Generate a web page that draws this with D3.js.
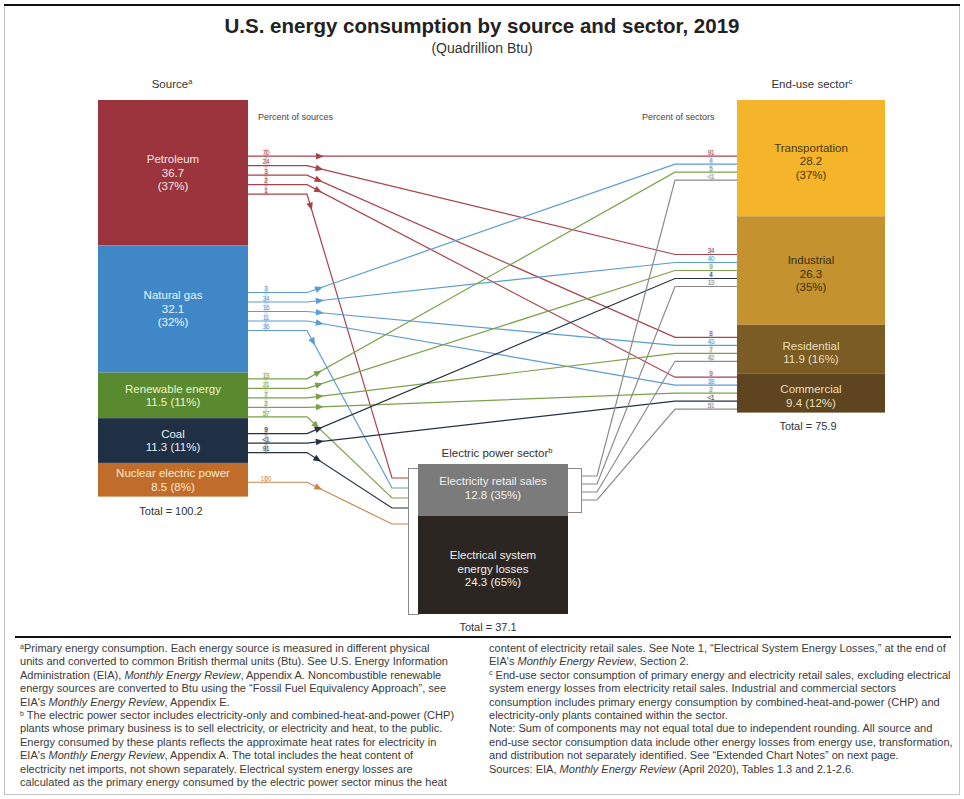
<!DOCTYPE html>
<html>
<head>
<meta charset="utf-8">
<script src="https://cdn.jsdelivr.net/npm/d3@7"></script>
<style>
  body { margin: 0; background: #fff; }
  svg { display: block; font-family: "Liberation Sans", Arial, Helvetica, sans-serif; }
</style>
</head>
<body>
<svg id="chart" width="964" height="799"></svg>
<script>
// ---- Data (quadrillion Btu, 2019) ----
const sources = ["Petroleum", "Natural gas", "Renewable energy", "Coal", "Nuclear electric power"];
const sourceValues = [36.7, 32.1, 11.5, 11.3, 8.5];
const sourceShares = [37, 32, 11, 11, 8];
const sourceTotal = 100.2;

const sectors = ["Transportation", "Industrial", "Residential", "Commercial"];
const sectorValues = [28.2, 26.3, 11.9, 9.4];
const sectorShares = [37, 35, 16, 12];
const sectorTotal = 75.9;

const powerParts = ["Electricity retail sales", "Electrical system energy losses"];
const powerLabelLines = [["Electricity retail sales"], ["Electrical system", "energy losses"]];
const powerValues = [12.8, 24.3];
const powerShares = [35, 65];
const powerTotal = 37.1;

// flow: [from, to, percent of source, percent of sector]
const flows = [
  ["Petroleum", "Transportation", "70", "91"],
  ["Petroleum", "Industrial", "24", "34"],
  ["Petroleum", "Residential", "3", "8"],
  ["Petroleum", "Commercial", "2", "9"],
  ["Petroleum", "Electric power", "1", null],
  ["Natural gas", "Transportation", "3", "4"],
  ["Natural gas", "Industrial", "34", "40"],
  ["Natural gas", "Residential", "16", "43"],
  ["Natural gas", "Commercial", "11", "38"],
  ["Natural gas", "Electric power", "36", null],
  ["Renewable energy", "Transportation", "13", "5"],
  ["Renewable energy", "Industrial", "21", "9"],
  ["Renewable energy", "Residential", "7", "7"],
  ["Renewable energy", "Commercial", "2", "2"],
  ["Renewable energy", "Electric power", "57", null],
  ["Coal", "Industrial", "9", "4"],
  ["Coal", "Commercial", "<1", "<1"],
  ["Coal", "Electric power", "91", null],
  ["Nuclear electric power", "Electric power", "100", null],
  ["Electricity retail sales", "Transportation", null, "<1"],
  ["Electricity retail sales", "Industrial", null, "13"],
  ["Electricity retail sales", "Residential", null, "42"],
  ["Electricity retail sales", "Commercial", null, "51"]
];

// ---- Styling ----
const sourceFill = ["#9b343c", "#3f87c6", "#5a8a30", "#1f3045", "#c06d2b"];
const sourceLine = ["#a8434b", "#5b9bd6", "#7ba24b", "#27313f", "#c9874c"];
const sourceText = ["#f6e4e4", "#eef4fb", "#eef3c8", "#e9edf2", "#fbe9d2"];
const sectorFill = ["#f4b52b", "#c4932f", "#7b5c24", "#5e4520"];
const sectorText = ["#4a3710", "#3c2c0c", "#ecdfbd", "#ecdfbd"];
const powerFill = ["#7b7b7b", "#2b2622"];
const retailLine = "#8a8a8a";

const svg = d3.select("#chart");

// frame
svg.append("rect").attr("x", 4.5).attr("y", 4.5).attr("width", 955).attr("height", 790)
  .attr("fill", "none").attr("stroke", "#c4c4c4");
svg.append("line").attr("x1", 4).attr("x2", 960).attr("y1", 5).attr("y2", 5)
  .attr("stroke", "#111").attr("stroke-width", 2);

// titles
svg.append("text").attr("x", 482).attr("y", 33).attr("text-anchor", "middle")
  .attr("font-size", 20.5).attr("font-weight", "bold").attr("fill", "#222")
  .text("U.S. energy consumption by source and sector, 2019");
svg.append("text").attr("x", 482).attr("y", 53).attr("text-anchor", "middle")
  .attr("font-size", 14).attr("fill", "#333").text("(Quadrillion Btu)");

function headed(x, y, label, sup) {
  const t = svg.append("text").attr("x", x).attr("y", y).attr("text-anchor", "middle")
    .attr("font-size", 11.5).attr("fill", "#333");
  t.append("tspan").text(label);
  t.append("tspan").attr("font-size", 7.5).attr("dy", -4).text(sup);
}
headed(172, 88, "Source", "a");
headed(812, 88, "End-use sector", "c");
headed(497, 457, "Electric power sector", "b");

svg.append("text").attr("x", 258).attr("y", 120).attr("font-size", 9).attr("fill", "#444").text("Percent of sources");
svg.append("text").attr("x", 642).attr("y", 120).attr("font-size", 9).attr("fill", "#444").text("Percent of sectors");

// ---- Scales and stacked boxes ----
const srcX = 98, srcW = 150, secX = 737, secW = 148, pwX = 418, pwW = 150;
const ySource = d3.scaleLinear().domain([0, sourceTotal]).range([100, 497]);
const ySector = d3.scaleLinear().domain([0, sectorTotal]).range([100, 413]);
const yPower = d3.scaleLinear().domain([0, powerTotal]).range([464, 614]);

function stack(values) {
  const ends = Array.from(d3.cumsum(values));
  return values.map((v, i) => [ends[i] - v, ends[i]]);
}
const srcStack = stack(sourceValues);
const secStack = stack(sectorValues);
const pwStack = stack(powerValues);

const node = {};
sources.forEach((s, i) => node[s] = { y0: ySource(srcStack[i][0]), y1: ySource(srcStack[i][1]), line: sourceLine[i] });
sectors.forEach((s, i) => node[s] = { y0: ySector(secStack[i][0]), y1: ySector(secStack[i][1]) });
powerParts.forEach((s, i) => node[s] = { y0: yPower(pwStack[i][0]), y1: yPower(pwStack[i][1]), line: retailLine });

function labelBlock(g, lines, cx, cy, fill) {
  const lh = 13.5;
  lines.forEach((ln, k) => {
    g.append("text").attr("x", cx).attr("y", cy + (k - (lines.length - 1) / 2) * lh + 4)
      .attr("text-anchor", "middle").attr("font-size", 11.5).attr("fill", fill).text(ln);
  });
}

// ---- Flow geometry ----
const bendL = 307, bendR = 675, srcSpacing = 9.5, secSpacing = 8;
const outBy = d3.group(flows, f => f[0]);
const inBy = d3.group(flows, f => f[1]);

const srcSlot = new Map();
sources.forEach(s => {
  const list = outBy.get(s) || [];
  const c = (node[s].y0 + node[s].y1) / 2 + 2.5;
  list.forEach((f, i) => srcSlot.set(f, c + (i - (list.length - 1) / 2) * srcSpacing));
});
const petroTop = srcSlot.get(outBy.get("Petroleum")[0]);

const secSlot = new Map();
sectors.forEach(s => {
  const list = inBy.get(s) || [];
  let c = (node[s].y0 + node[s].y1) / 2;
  if (s === "Transportation") c = petroTop + (list.length - 1) / 2 * secSpacing;
  list.forEach((f, i) => secSlot.set(f, c + (i - (list.length - 1) / 2) * secSpacing));
});

const epIn = inBy.get("Electric power");
const epSlot = new Map();
epIn.forEach((f, i) => epSlot.set(f, 478 + i * 10 + (i === epIn.length - 1 ? 6 : 0)));
const retailOut = outBy.get("Electricity retail sales");
const retailSlot = new Map();
retailOut.forEach((f, i) => retailSlot.set(f, 476 + i * 8));

const lineG = svg.append("g").attr("fill", "none").attr("stroke-width", 1.2);
const arrowG = svg.append("g");
const line = d3.line();

flows.forEach(f => {
  const [from, to] = f;
  let pts;
  const color = node[from].line;
  if (from === "Electricity retail sales") {
    const y0 = retailSlot.get(f), y1 = secSlot.get(f);
    pts = [[582, y0], [597, y0], [bendR, y1], [secX, y1]];
  } else if (to === "Electric power") {
    const y0 = srcSlot.get(f), y1 = epSlot.get(f);
    pts = [[srcX + srcW, y0], [bendL, y0], [392, y1], [408, y1]];
  } else {
    const y0 = srcSlot.get(f), y1 = secSlot.get(f);
    pts = [[srcX + srcW, y0], [bendL, y0], [bendR, y1], [secX, y1]];
  }
  lineG.append("path").attr("d", line(pts)).attr("stroke", color);

  if (from !== "Electricity retail sales") {
    const [bx, by] = pts[1], [nx, ny] = pts[2];
    const len = Math.hypot(nx - bx, ny - by);
    const ux = (nx - bx) / len, uy = (ny - by) / len;
    const tx = bx + ux * 17, ty = by + uy * 17;
    const ang = Math.atan2(uy, ux) * 180 / Math.PI;
    arrowG.append("path").attr("d", "M0,0L-8,-3.3L-8,3.3Z").attr("fill", color)
      .attr("transform", `translate(${tx},${ty}) rotate(${ang})`);
  }
});

// percent labels with light guide bars
const labG = svg.append("g").attr("font-size", 6.5).attr("text-anchor", "middle");
sources.forEach((s, i) => {
  const list = outBy.get(s);
  const ys = list.map(f => srcSlot.get(f));
  labG.append("rect").attr("x", 264.5).attr("y", d3.min(ys) - 7).attr("width", 3)
    .attr("height", d3.max(ys) - d3.min(ys) + 8).attr("fill", sourceLine[i]).attr("opacity", 0.25);
  list.forEach(f => labG.append("text").attr("x", 266).attr("y", srcSlot.get(f) - 1.3)
    .attr("fill", sourceLine[i]).text(f[2]));
});
sectors.forEach(s => {
  const list = inBy.get(s);
  const ys = list.map(f => secSlot.get(f));
  labG.append("rect").attr("x", 709.5).attr("y", d3.min(ys) - 7).attr("width", 3)
    .attr("height", d3.max(ys) - d3.min(ys) + 8).attr("fill", "#999").attr("opacity", 0.25);
  list.forEach(f => labG.append("text").attr("x", 711).attr("y", secSlot.get(f) - 1.3)
    .attr("fill", node[f[0]].line).text(f[3]));
});

// ---- Boxes ----
const boxG = svg.append("g");
sources.forEach((s, i) => {
  const n = node[s];
  boxG.append("rect").attr("x", srcX).attr("y", n.y0).attr("width", srcW).attr("height", n.y1 - n.y0).attr("fill", sourceFill[i]);
  const v = sourceValues[i].toFixed(1), p = `(${sourceShares[i]}%)`;
  const lines = (n.y1 - n.y0) > 80 ? [s, v, p] : [s, `${v} ${p}`];
  labelBlock(boxG, lines, srcX + srcW / 2, (n.y0 + n.y1) / 2, sourceText[i]);
});
boxG.append("text").attr("x", srcX + srcW / 2 - 2).attr("y", 515).attr("text-anchor", "middle")
  .attr("font-size", 11).attr("fill", "#333").text(`Total = ${sourceTotal.toFixed(1)}`);

sectors.forEach((s, i) => {
  const n = node[s];
  boxG.append("rect").attr("x", secX).attr("y", n.y0).attr("width", secW).attr("height", n.y1 - n.y0).attr("fill", sectorFill[i]);
  const v = sectorValues[i].toFixed(1), p = `(${sectorShares[i]}%)`;
  const lines = (n.y1 - n.y0) > 80 ? [s, v, p] : [s, `${v} ${p}`];
  labelBlock(boxG, lines, secX + secW / 2, (n.y0 + n.y1) / 2 + 3, sectorText[i]);
});
boxG.append("text").attr("x", secX + secW / 2 - 3).attr("y", 430).attr("text-anchor", "middle")
  .attr("font-size", 11).attr("fill", "#333").text(`Total = ${sectorTotal.toFixed(1)}`);

// electric power sector: input/output strips and stacked parts
boxG.append("rect").attr("x", 408.5).attr("y", 468.5).attr("width", 10).attr("height", 146)
  .attr("fill", "#fff").attr("stroke", "#8a8a8a");
boxG.append("rect").attr("x", 567.5).attr("y", 468.5).attr("width", 14).attr("height", 44)
  .attr("fill", "#fff").attr("stroke", "#8a8a8a");
powerParts.forEach((s, i) => {
  const n = node[s];
  boxG.append("rect").attr("x", pwX).attr("y", n.y0).attr("width", pwW).attr("height", n.y1 - n.y0).attr("fill", powerFill[i]);
  const lines = powerLabelLines[i].concat([`${powerValues[i].toFixed(1)} (${powerShares[i]}%)`]);
  labelBlock(boxG, lines, pwX + pwW / 2, (n.y0 + n.y1) / 2 + (i ? 4 : -2), "#efefef");
});
boxG.append("text").attr("x", 488).attr("y", 631).attr("text-anchor", "middle")
  .attr("font-size", 11).attr("fill", "#333").text(`Total = ${powerTotal.toFixed(1)}`);

// ---- Notes ----
svg.append("line").attr("x1", 15).attr("x2", 951).attr("y1", 637).attr("y2", 637)
  .attr("stroke", "#111").attr("stroke-width", 2);

const notesLeft = [
  "{a}Primary energy consumption. Each energy source is measured in different physical",
  "units and converted to common British thermal units (Btu). See U.S. Energy Information",
  "Administration (EIA), *Monthly Energy Review*, Appendix A. Noncombustible renewable",
  "energy sources are converted to Btu using the “Fossil Fuel Equivalency Approach”, see",
  "EIA's *Monthly Energy Review*, Appendix E.",
  "{b} The electric power sector includes electricity-only and combined-heat-and-power (CHP)",
  "plants whose primary business is to sell electricity, or electricity and heat, to the public.",
  "Energy consumed by these plants reflects the approximate heat rates for electricity in",
  "EIA's *Monthly Energy Review*, Appendix A. The total includes the heat content of",
  "electricity net imports, not shown separately. Electrical system energy losses are",
  "calculated as the primary energy consumed by the electric power sector minus the heat"
];
const notesRight = [
  "content of electricity retail sales. See Note 1, “Electrical System Energy Losses,” at the end of",
  "EIA's *Monthly Energy Review*, Section 2.",
  "{c} End-use sector consumption of primary energy and electricity retail sales, excluding electrical",
  "system energy losses from electricity retail sales. Industrial and commercial sectors",
  "consumption includes primary energy consumption by combined-heat-and-power (CHP) and",
  "electricity-only plants contained within the sector.",
  "Note: Sum of components may not equal total due to independent rounding. All source and",
  "end-use sector consumption data include other energy losses from energy use, transformation,",
  "and distribution not separately identified. See “Extended Chart Notes” on next page.",
  "Sources: EIA, *Monthly Energy Review* (April 2020), Tables 1.3 and 2.1-2.6."
];

function notes(lines, x, y0, lh) {
  lines.forEach((ln, k) => {
    const t = svg.append("text").attr("x", x).attr("y", y0 + k * lh).attr("font-size", 11.05).attr("fill", "#3a3a3a");
    let afterSup = false;
    ln.split(/(\*[^*]+\*|\{[abc]\})/).filter(d => d.length).forEach(seg => {
      if (seg[0] === "{") {
        t.append("tspan").attr("font-size", 7).attr("dy", -3.5).text(seg[1]);
        afterSup = true;
        return;
      }
      const sp = seg[0] === "*"
        ? t.append("tspan").attr("font-style", "italic").text(seg.slice(1, -1))
        : t.append("tspan").text(seg);
      if (afterSup) { sp.attr("dy", 3.5); afterSup = false; }
    });
  });
}
notes(notesLeft, 20, 652, 13.4);
notes(notesRight, 489, 652, 13.4);
</script>
</body>
</html>
